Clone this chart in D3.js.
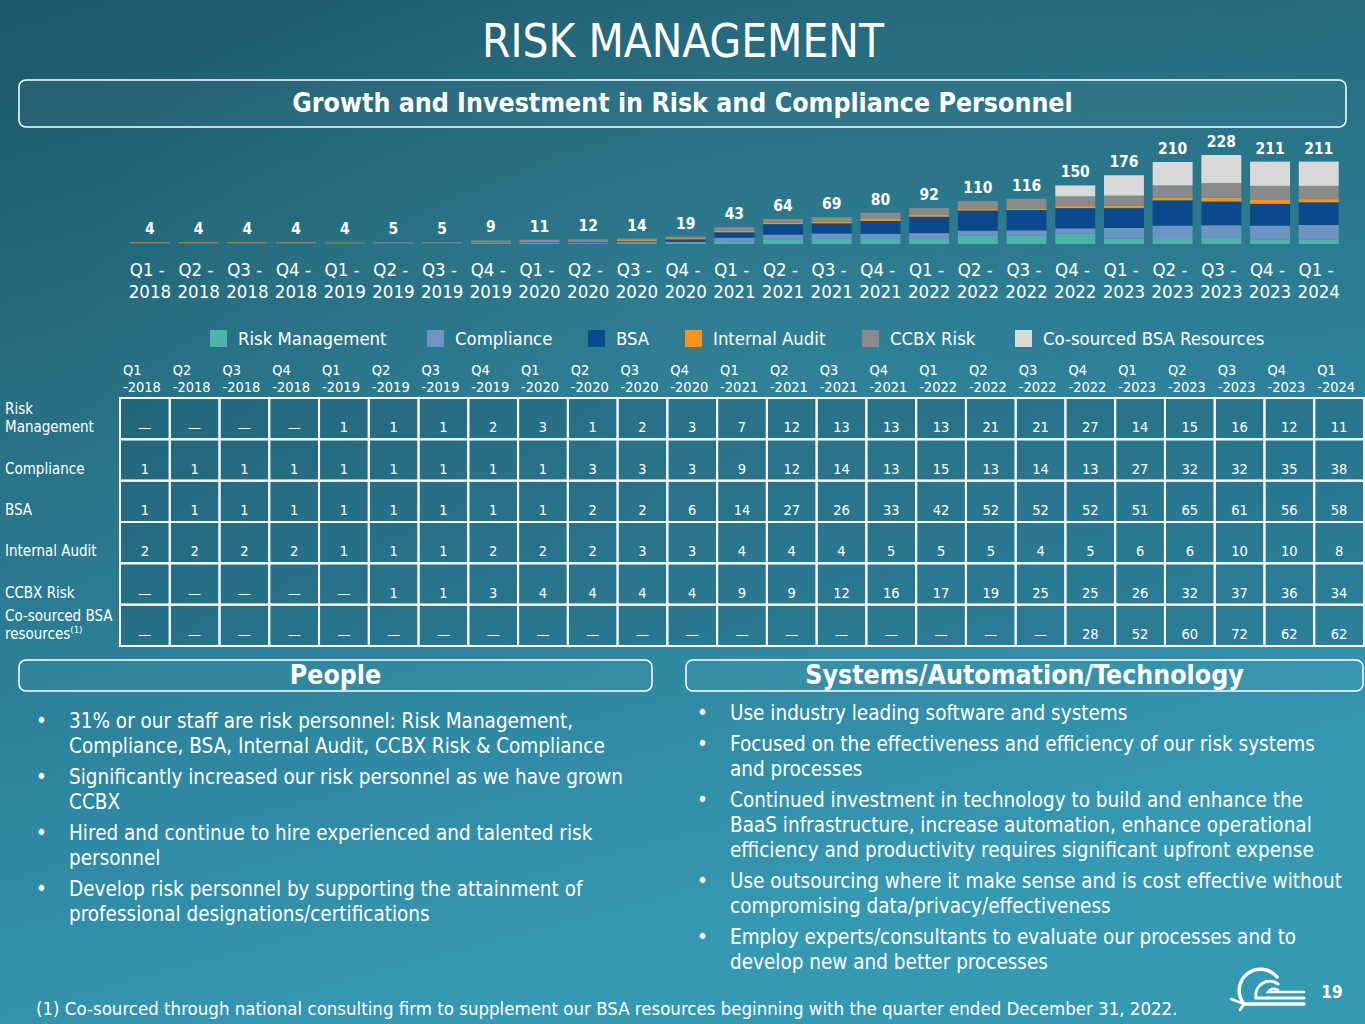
<!DOCTYPE html>
<html>
<head>
<meta charset="utf-8">
<script src="https://cdn.jsdelivr.net/npm/d3@7"></script>
<style>
  body { margin: 0; background: #2a7387; }
  svg { display: block; font-family: "DejaVu Sans Condensed", "DejaVu Sans", sans-serif; }
</style>
</head>
<body>
<div id="chart"></div>
<script>
const quarters = ["Q1-2018","Q2-2018","Q3-2018","Q4-2018","Q1-2019","Q2-2019","Q3-2019","Q4-2019",
  "Q1-2020","Q2-2020","Q3-2020","Q4-2020","Q1-2021","Q2-2021","Q3-2021","Q4-2021",
  "Q1-2022","Q2-2022","Q3-2022","Q4-2022","Q1-2023","Q2-2023","Q3-2023","Q4-2023","Q1-2024"];

const riskManagement = [0,0,0,0,1,1,1,2,3,1,2,3,7,12,13,13,13,21,21,27,14,15,16,12,11];
const compliance     = [1,1,1,1,1,1,1,1,1,3,3,3,9,12,14,13,15,13,14,13,27,32,32,35,38];
const bsa            = [1,1,1,1,1,1,1,1,1,2,2,6,14,27,26,33,42,52,52,52,51,65,61,56,58];
const internalAudit  = [2,2,2,2,1,1,1,2,2,2,3,3,4,4,4,5,5,5,4,5,6,6,10,10,8];
const ccbxRisk       = [0,0,0,0,0,1,1,3,4,4,4,4,9,9,12,16,17,19,25,25,26,32,37,36,34];
const coSourced      = [0,0,0,0,0,0,0,0,0,0,0,0,0,0,0,0,0,0,0,28,52,60,72,62,62];

const seriesNames = ["Risk Management","Compliance","BSA","Internal Audit","CCBX Risk","Co-sourced BSA Resources"];
const seriesColors = ["#4fb3aa","#6c95c4","#0a4a8c","#f7941d","#8a8a8a","#d9d9d9"];
const rowLabels = [["Risk","Management"],["Compliance"],["BSA"],["Internal Audit"],["CCBX Risk"],["Co-sourced BSA","resources"]];

const peopleBullets = [
  ["31% or our staff are risk personnel: Risk Management,","Compliance, BSA, Internal Audit, CCBX Risk & Compliance"],
  ["Significantly increased our risk personnel as we have grown","CCBX"],
  ["Hired and continue to hire experienced and talented risk","personnel"],
  ["Develop risk personnel by supporting the attainment of","professional designations/certifications"]
];
const systemsBullets = [
  ["Use industry leading software and systems"],
  ["Focused on the effectiveness and efficiency of our risk systems","and processes"],
  ["Continued investment in technology to build and enhance the","BaaS infrastructure, increase automation, enhance operational","efficiency and productivity requires significant upfront expense"],
  ["Use outsourcing where it make sense and is cost effective without","compromising data/privacy/effectiveness"],
  ["Employ experts/consultants to evaluate our processes and to","develop new and better processes"]
];

const series = [riskManagement, compliance, bsa, internalAudit, ccbxRisk, coSourced];
const rows = quarters.map((q, i) => {
  const r = {quarter: q};
  seriesNames.forEach((n, k) => r[n] = series[k][i]);
  return r;
});

const W = 1365, H = 1024;
const svg = d3.select("#chart").append("svg").attr("width", W).attr("height", H);

// background
const defs = svg.append("defs");
const bg = defs.append("linearGradient").attr("id", "bg").attr("x1", 0).attr("y1", 0).attr("x2", 0.35).attr("y2", 1);
bg.append("stop").attr("offset", "0%").attr("stop-color", "#1d5868");
bg.append("stop").attr("offset", "35%").attr("stop-color", "#276f82");
bg.append("stop").attr("offset", "70%").attr("stop-color", "#2e86a0");
bg.append("stop").attr("offset", "100%").attr("stop-color", "#3699b4");
svg.append("rect").attr("width", W).attr("height", H).attr("fill", "url(#bg)");
const glow = defs.append("radialGradient").attr("id", "glow").attr("cx", 0.55).attr("cy", 0.35).attr("r", 0.5);
glow.append("stop").attr("offset", "0%").attr("stop-color", "#3b8ea3").attr("stop-opacity", 0.35);
glow.append("stop").attr("offset", "100%").attr("stop-color", "#3b8ea3").attr("stop-opacity", 0);
svg.append("rect").attr("width", W).attr("height", H).attr("fill", "url(#glow)");

// title
svg.append("text").attr("x", 683).attr("y", 57).attr("text-anchor", "middle")
  .attr("fill", "#fff").attr("font-size", 45.5).text("RISK MANAGEMENT");

function headerBox(x, y, w, h, label, size) {
  svg.append("rect").attr("x", x).attr("y", y).attr("width", w).attr("height", h)
    .attr("rx", 7).attr("fill", "rgba(255,255,255,0.03)").attr("stroke", "#fff").attr("stroke-width", 1.5);
  svg.append("text").attr("x", x + w / 2).attr("y", y + h / 2 + size * 0.33).attr("text-anchor", "middle")
    .attr("fill", "#fff").attr("font-weight", "bold").attr("font-size", size).text(label);
}
headerBox(19, 80, 1327, 47, "Growth and Investment in Risk and Compliance Personnel", 26.5);

// stacked bars
const x = d3.scaleBand().domain(quarters).range([125.6, 1343.1]).paddingInner(0.18).paddingOuter(0.09);
const y = d3.scaleLinear().domain([0, 228]).range([244, 155]);
const stacked = d3.stack().keys(seriesNames)(rows);

svg.append("g").selectAll("g").data(stacked).join("g")
  .attr("fill", (d, i) => seriesColors[i])
  .selectAll("rect").data(d => d).join("rect")
  .attr("x", d => x(d.data.quarter))
  .attr("y", d => y(d[1]))
  .attr("width", x.bandwidth())
  .attr("height", d => y(d[0]) - y(d[1]));

svg.append("g").selectAll("text").data(rows).join("text")
  .attr("x", d => x(d.quarter) + x.bandwidth() / 2)
  .attr("y", d => y(d3.sum(seriesNames, n => d[n])) - 8)
  .attr("text-anchor", "middle").attr("fill", "#fff").attr("font-weight", "bold").attr("font-size", 15.5)
  .text(d => d3.sum(seriesNames, n => d[n]));

// x axis labels
const xl = svg.append("g").selectAll("text").data(quarters).join("text")
  .attr("x", d => x(d) + x.bandwidth() / 2).attr("text-anchor", "middle")
  .attr("fill", "#fff").attr("font-size", 18.5);
xl.append("tspan").attr("x", d => x(d) + x.bandwidth() / 2).attr("y", 276).text(d => d.split("-")[0] + " -\u00a0");
xl.append("tspan").attr("x", d => x(d) + x.bandwidth() / 2).attr("y", 298).text(d => d.split("-")[1]);

// legend
const legendX = [210, 427, 588, 685, 862, 1015];
const lg = svg.append("g").selectAll("g").data(seriesNames).join("g")
  .attr("transform", (d, i) => `translate(${legendX[i]},330)`);
lg.append("rect").attr("width", 17).attr("height", 17).attr("fill", (d, i) => seriesColors[i]);
lg.append("text").attr("x", 28).attr("y", 15).attr("fill", "#fff").attr("font-size", 18.4).text(d => d);

// table
const tx = d3.scaleBand().domain(quarters).range([120, 1364]);
const ty = d3.scaleBand().domain(seriesNames).range([398, 646]);

const th = svg.append("g").selectAll("text").data(quarters).join("text")
  .attr("fill", "#fff").attr("font-size", 14.5);
th.append("tspan").attr("x", d => tx(d) + 3).attr("y", 375).text(d => d.split("-")[0]);
th.append("tspan").attr("x", d => tx(d) + 3).attr("y", 392).text(d => "-" + d.split("-")[1]);

const cells = [];
seriesNames.forEach((n, k) => quarters.forEach((q, i) => cells.push({n, q, v: series[k][i]})));
svg.append("g").selectAll("rect").data(cells).join("rect")
  .attr("x", d => tx(d.q)).attr("y", d => ty(d.n))
  .attr("width", tx.bandwidth()).attr("height", ty.bandwidth())
  .attr("fill", "rgba(10,50,70,0.18)").attr("stroke", "#fff").attr("stroke-width", 2);
svg.append("g").selectAll("text").data(cells).join("text")
  .attr("x", d => tx(d.q) + tx.bandwidth() / 2).attr("y", d => ty(d.n) + ty.bandwidth() - 7)
  .attr("text-anchor", "middle").attr("fill", "#fff").attr("font-size", 14.5)
  .text(d => d.v === 0 ? "\u2014" : d.v);

const rl = svg.append("g").selectAll("text").data(seriesNames).join("text")
  .attr("fill", "#fff").attr("font-size", 15);
rl.each(function(d, i) {
  const t = d3.select(this);
  const lines = rowLabels[i];
  const base = ty(d) + ty.bandwidth() - 7;
  lines.forEach((line, j) => {
    t.append("tspan").attr("x", 5).attr("y", base - (lines.length - 1 - j) * 18).text(line);
  });
  if (i === 5) t.append("tspan").attr("font-size", 9.5).attr("dy", -6).text("(1)");
});

// bottom sections
headerBox(19, 660, 633, 31, "People", 26.5);
headerBox(686, 660, 677, 31, "Systems/Automation/Technology", 26.5);

function bullets(list, bx, tx0, y0, gap) {
  let yy = y0;
  const g = svg.append("g").attr("fill", "#fff").attr("font-size", 20.5);
  list.forEach(lines => {
    g.append("text").attr("x", bx).attr("y", yy).text("\u2022");
    lines.forEach((line, j) => {
      g.append("text").attr("x", tx0).attr("y", yy + j * 25).text(line);
    });
    yy += (lines.length - 1) * 25 + gap;
  });
}
bullets(peopleBullets, 36, 69, 728, 31);
bullets(systemsBullets, 697, 730, 720, 31);

// footnote
svg.append("text").attr("x", 36).attr("y", 1015).attr("fill", "#fff").attr("font-size", 18.5)
  .text("(1) Co-sourced through national consulting firm to supplement our BSA resources beginning with the quarter ended December 31, 2022.");

// logo and page number
const logo = svg.append("g").attr("fill", "none").attr("stroke", "#fff").attr("stroke-linecap", "round");
logo.append("path").attr("d", "M1277,977 A21,21 0 0 0 1244,1004 L1304,1004").attr("stroke-width", 3.5);
logo.append("path").attr("d", "M1278,984 A14,14 0 0 0 1256,998 L1304,998").attr("stroke-width", 3);
logo.append("path").attr("d", "M1278,990 A7,7 0 0 0 1268,992 L1304,992").attr("stroke-width", 2.5);
logo.append("path").attr("d", "M1244,1004 L1231,999 M1244,1004 L1240,1010").attr("stroke-width", 2.5);
svg.append("text").attr("x", 1332).attr("y", 998).attr("text-anchor", "middle").attr("fill", "#fff")
  .attr("font-weight", "bold").attr("font-size", 17).text("19");
</script>
</body>
</html>
